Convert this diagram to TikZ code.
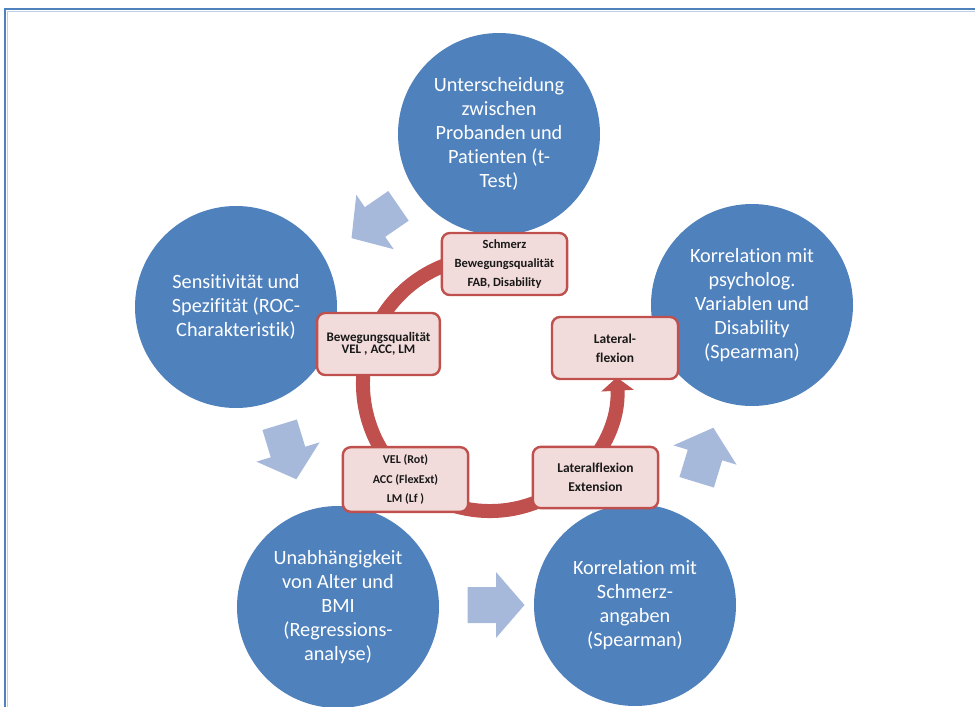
\documentclass[tikz,border=0pt]{standalone}
\usepackage{fontspec}
\setmainfont{Carlito}[Ligatures={NoCommon,NoContextual}]
\usetikzlibrary{arrows.meta}

\definecolor{circblue}{RGB}{79,129,189}
\definecolor{arrowblue}{RGB}{167,185,219}
\definecolor{ringred}{RGB}{192,80,77}
\definecolor{boxpink}{RGB}{242,220,219}
\definecolor{boxtext}{RGB}{25,25,25}
\definecolor{framelight}{RGB}{190,208,232}

\tikzset{
  topic/.style={circle, fill=circblue, text=white, inner sep=0pt,
    minimum size=151.5pt, align=center, font=\fontsize{15.2}{18}\selectfont},
  tag/.style={rectangle, rounded corners=6pt, fill=boxpink, draw=ringred,
    line width=1.8pt, inner sep=0pt, align=center, text=boxtext},
  tagsmall/.style={tag, font=\bfseries\fontsize{9.4}{14.2}\selectfont},
  taglarge/.style={tag, font=\bfseries\fontsize{10.1}{14}\selectfont},
  ring/.style={ringred, line width=10.5pt,
    -{Triangle[width=24pt,length=10pt]}},
  flowarrow/.style={fill=arrowblue},
}

% light-blue block arrow, centred at (#1,#2), pointing towards angle #3
\newcommand\flowblock[3]{%
  \begin{scope}[shift={(#1,#2)}, rotate=#3]
    \fill[flowarrow] (-28.5,-18) -- (0,-18) -- (0,-33) -- (28.5,0)
      -- (0,33) -- (0,18) -- (-28.5,18) -- cycle;
  \end{scope}}

\begin{document}
\begin{tikzpicture}[x=0.75pt, y=-0.75pt]
  \useasboundingbox (0,0) rectangle (975,707);
  \fill[white] (0,0) rectangle (975,707);

  % page frame
  \draw[framelight, line width=0.9pt] (7.5,707) -- (7.5,11.5) -- (975,11.5);
  \draw[circblue, line width=1.5pt] (5,707) -- (5,9) -- (975,9);

  % the five topics
  \node[topic] (ttest) at (499,134)
    {Unterscheidung\\zwischen\\Probanden und\\Patienten (t-\\Test)};
  \node[topic] (roc) at (236,307)
    {Sensitivität und\\Spezifität (ROC-\\Charakteristik)};
  \node[topic] (psych) at (752,305)
    {Korrelation mit\\psycholog.\\Variablen und\\Disability\\(Spearman)};
  \node[topic] (regr) at (338,607)
    {Unabhängigkeit\\von Alter und\\BMI\\(Regressions-\\analyse)};
  \node[topic] (pain) at (635,605)
    {Korrelation mit\\Schmerz-\\angaben\\(Spearman)};

  % block arrows between the topics
  \flowblock{375}{222}{214.5}
  \flowblock{288}{452}{287}
  \flowblock{496}{605}{0}
  \flowblock{705}{455}{73}

  % circular arrow
  \coordinate (ringc) at (490,384);
  \draw[ring] ([shift={(-105:127)}]ringc) arc[start angle=-105, end angle=-363, radius=127];

  % labels on the ring
  \node[tagsmall, minimum width=94pt, minimum height=46.5pt] (b1) at (504.5,264)
    {Schmerz\\Bewegungsqualität\\FAB, Disability};
  \node[tag, font=\bfseries\fontsize{9.8}{9.4}\selectfont,
        minimum width=92pt, minimum height=46.5pt] (b2) at (378.5,344)
    {Bewegungsqualität\\VEL , ACC, LM};
  \node[taglarge, minimum width=94.5pt, minimum height=46.5pt] (b3) at (615,348)
    {Lateral-\\flexion};
  \node[tagsmall, font=\bfseries\fontsize{9}{14.5}\selectfont,
        minimum width=94pt, minimum height=48.5pt] (b4) at (405.5,479.5)
    {VEL (Rot)\\ACC (FlexExt)\\LM (Lf )};
  \node[taglarge, minimum width=94pt, minimum height=46pt] (b5) at (595.5,477.5)
    {Lateralflexion\\Extension};
\end{tikzpicture}
\end{document}
